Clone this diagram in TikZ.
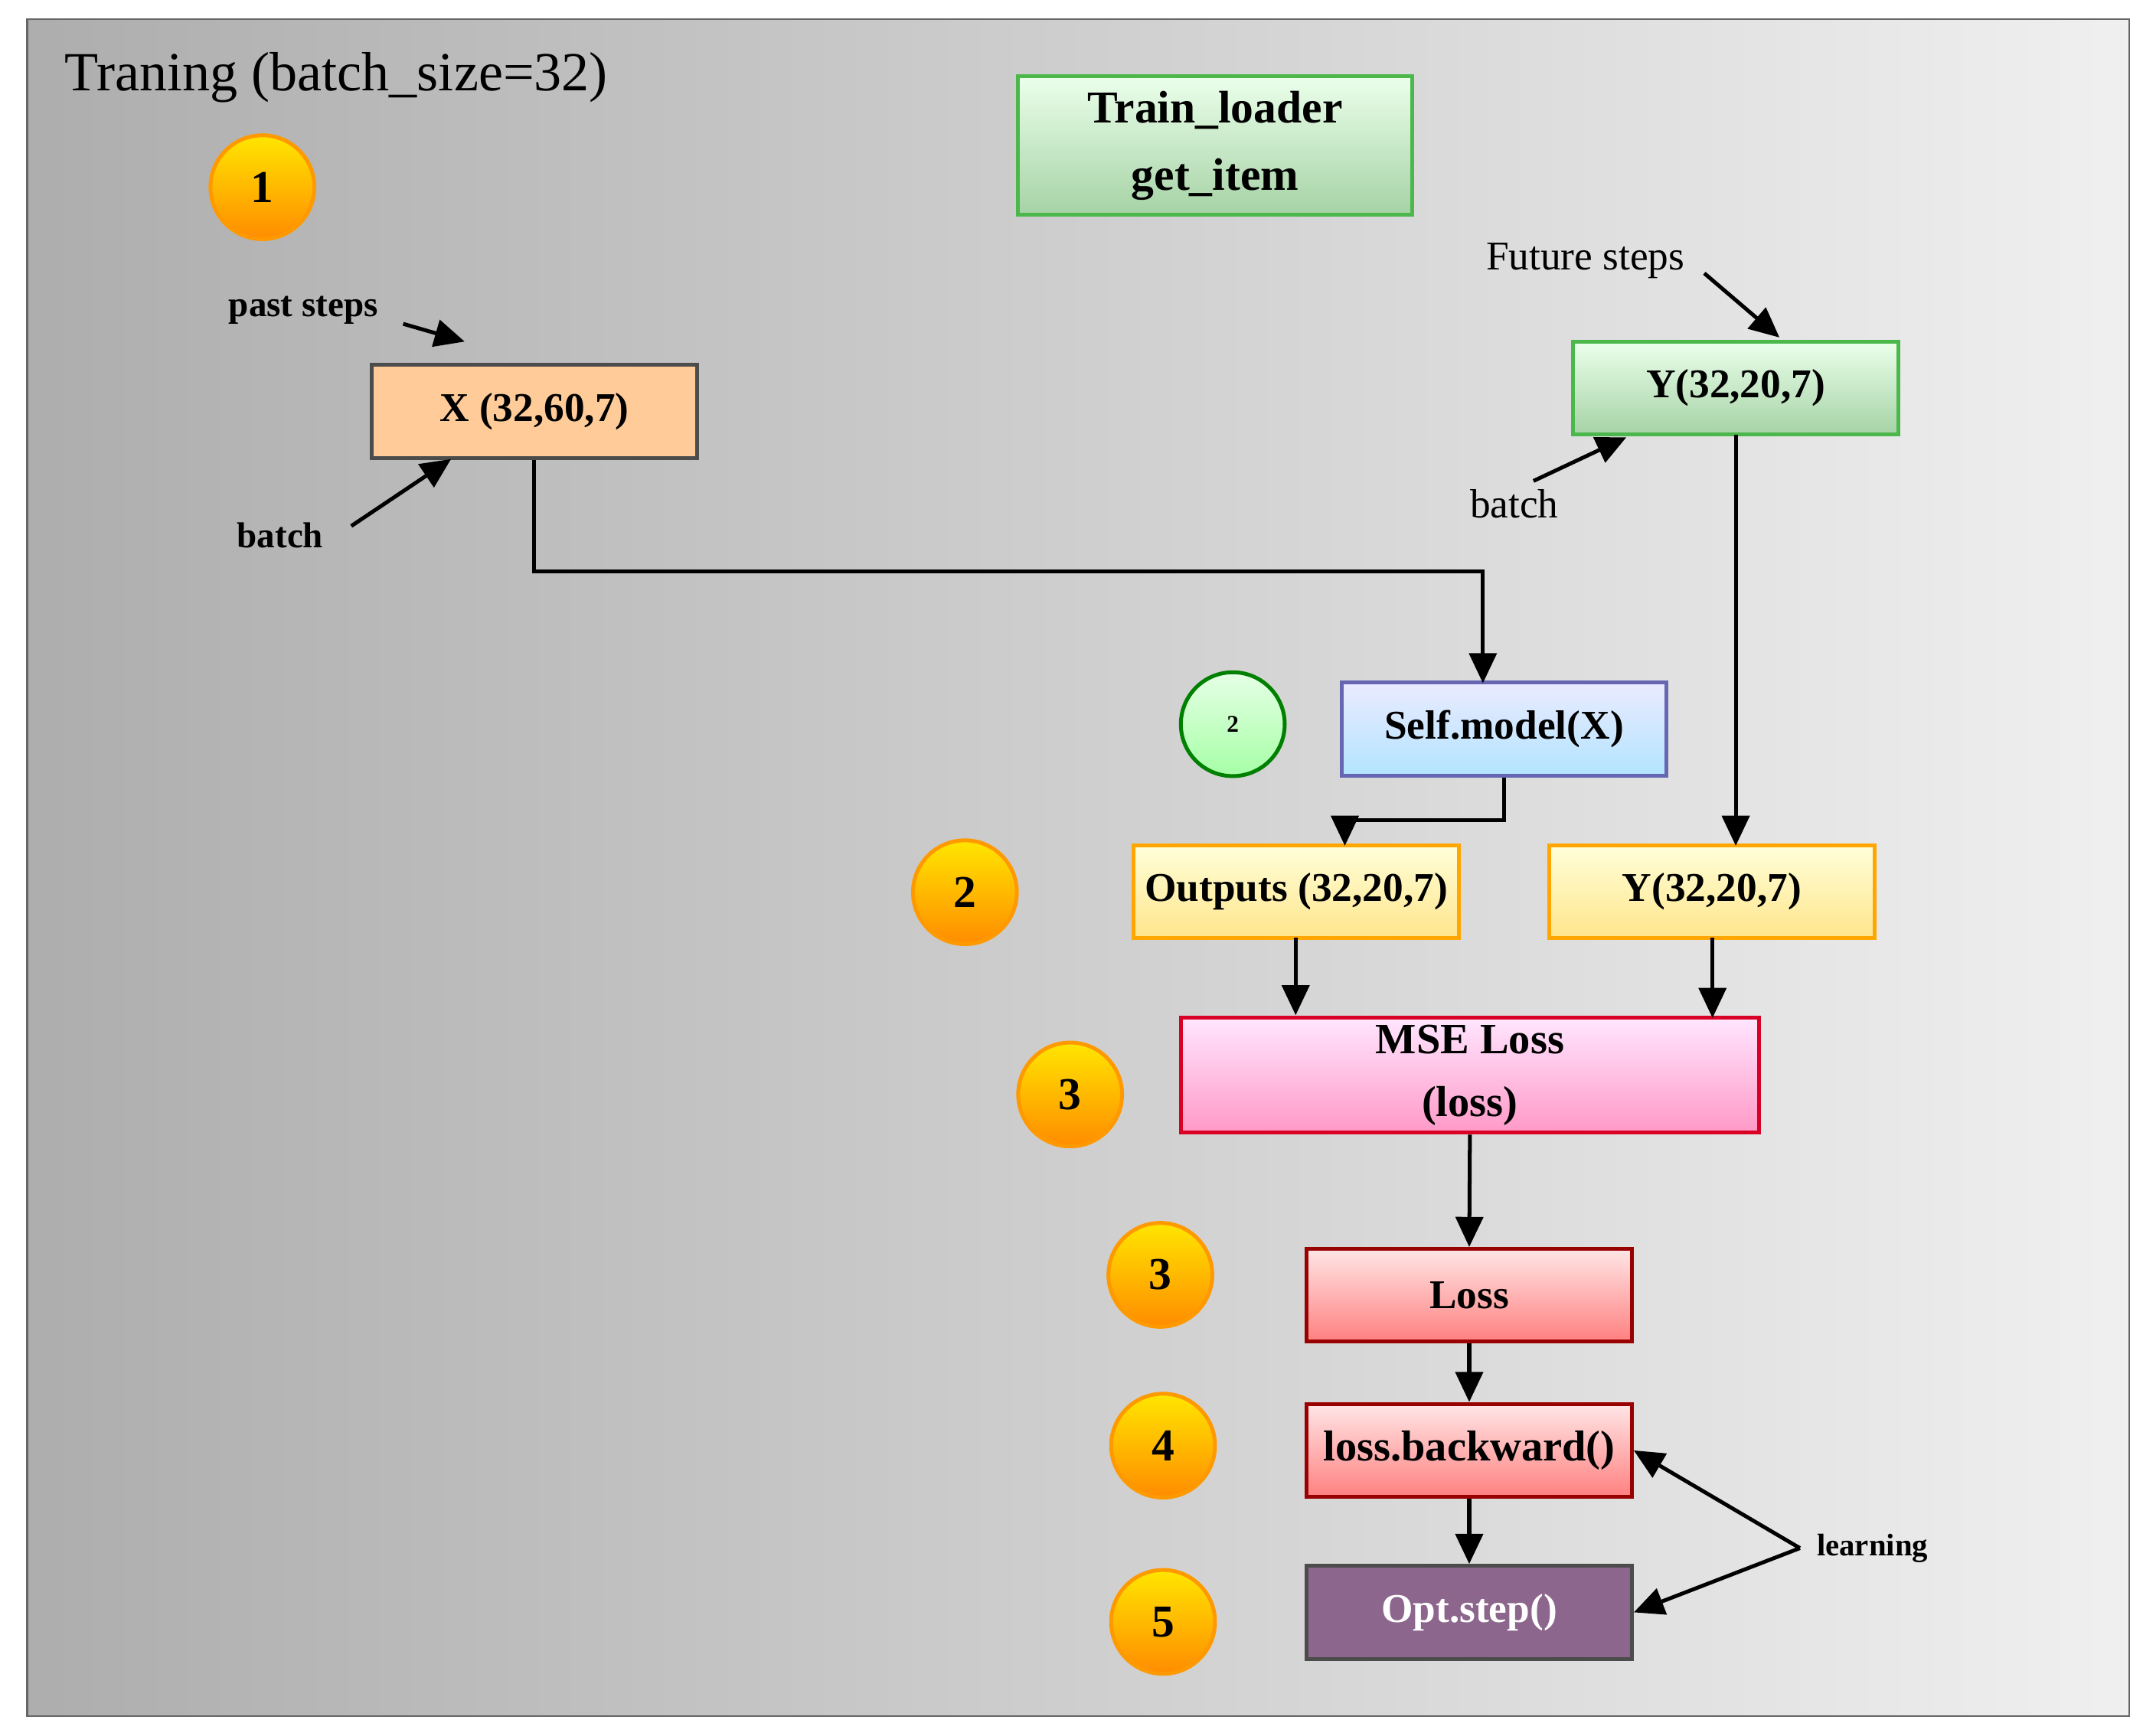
\documentclass[tikz,border=0pt]{standalone}
\usepackage{fontspec}
\setmainfont{Liberation Serif}
\usetikzlibrary{arrows.meta}
\tikzset{
  box/.style       = {shape=rectangle, draw, thick, align=center, inner sep=0pt,
                      font=\bfseries\fontsize{8.5}{11}\selectfont,
                      minimum width=2.38cm, minimum height=0.68cm},
  greenbox/.style  = {box, draw=green!60!black!70, top color=green!8!white, bottom color=green!50!black!35!white},
  yellowbox/.style = {box, draw=orange!70!yellow, top color=yellow!15, bottom color=yellow!55!orange!45},
  redbox/.style    = {box, draw=red!60!black, top color=red!10, bottom color=red!50},
  stepnum/.style   = {shape=circle, draw=orange!80!yellow, thick, minimum size=0.76cm,
                      inner sep=0pt, font=\bfseries\fontsize{9.5}{12}\selectfont,
                      top color=yellow!80!orange, bottom color=orange!90!yellow},
  lbl/.style       = {font=\bfseries\fontsize{7.5}{10}\selectfont},
  arr/.style       = {-{Triangle[length=2.2mm,width=2mm]}, thick}
}
\begin{document}
\begin{tikzpicture}
  \useasboundingbox (0,0) rectangle (15.68,-12.7);
  \shade[left color=black!32, right color=black!6, draw=black!60]
    (0.2,-0.14) rectangle (15.58,-12.56);
  \node[anchor=west, font=\fontsize{11.5}{14}\selectfont] (title) at (0.35,-0.57) {Traning (batch\_size=32)};

  % loader and inputs
  \node[greenbox, minimum width=2.88cm, minimum height=1.01cm, font=\bfseries\fontsize{9.5}{14}\selectfont]
    (loader) at (8.89,-1.065) {Train\_loader\\get\_item};
  \node[stepnum] (s1) at (1.92,-1.37) {1};
  \node[box, fill=orange!40, draw=black!70] (x) at (3.91,-3.01) {X (32,60,7)};
  \node[greenbox] (ytop) at (12.7,-2.84) {Y(32,20,7)};
  \node[lbl] (past) at (2.22,-2.27) {past steps};
  \node[lbl] (bx) at (2.05,-3.92) {batch};
  \node[font=\fontsize{8.5}{11}\selectfont] (future) at (11.6,-1.91) {Future steps};
  \node[font=\fontsize{8.5}{11}\selectfont] (by) at (11.08,-3.69) {batch};
  \coordinate (pa) at (2.95,-2.37);
  \coordinate (ba) at (2.57,-3.85);
  \coordinate (fa) at (12.47,-2.0);
  \coordinate (ya) at (11.22,-3.52);
  \draw[arr] (pa) -- (3.4,-2.5);
  \draw[arr] (ba) -- (3.3,-3.36);
  \draw[arr] (fa) -- (13.02,-2.47);
  \draw[arr] (ya) -- (11.9,-3.2);

  % model
  \node[stepnum, draw=green!50!black, top color=green!10, bottom color=green!35,
        font=\bfseries\fontsize{5}{6}\selectfont] (s2a) at (9.02,-5.3) {2};
  \node[box, draw=blue!50!black!60, top color=blue!8, bottom color=blue!35!cyan!30]
    (model) at (11.005,-5.335) {Self.model(X)};
  \node[stepnum] (s2) at (7.06,-6.53) {2};
  \node[yellowbox] (out) at (9.485,-6.525) {Outputs (32,20,7)};
  \node[yellowbox] (ybot) at (12.525,-6.525) {Y(32,20,7)};
  \draw[arr] (x.south) -- (x.south |- 0,-4.18) -| (10.85,-5.0);
  \draw[arr] (model.south) -- (model.south |- 0,-6.0) -| (9.84,-6.19);
  \draw[arr] (12.7,-3.18) -- (12.7,-6.19);

  % loss
  \node[stepnum] (s3a) at (7.83,-8.01) {3};
  \node[box, draw=red!40!purple, top color=magenta!10, bottom color=magenta!45!red!40,
        minimum width=4.23cm, minimum height=0.84cm, font=\bfseries\fontsize{9}{13}\selectfont]
    (mse) at (10.755,-7.87) {MSE Loss\\(loss)};
  \draw[arr] (9.48,-6.86) -- (9.48,-7.43);
  \draw[arr] (12.53,-6.86) -- (12.53,-7.45);
  \node[stepnum] (s3) at (8.49,-9.33) {3};
  \node[redbox] (loss) at (10.75,-9.48) {Loss};
  \node[stepnum] (s4) at (8.51,-10.58) {4};
  \node[redbox, font=\bfseries\fontsize{9}{11}\selectfont] (back) at (10.75,-10.615) {loss.backward()};
  \node[stepnum] (s5) at (8.51,-11.87) {5};
  \node[box, draw=black!70, fill=violet!50!black!60, text=white] (opt) at (10.75,-11.8) {Opt.step()};
  \draw[arr] (mse.south) -- (loss.north);
  \draw[arr] (loss.south) -- (back.north);
  \draw[arr] (back.south) -- (opt.north);
  \node[lbl, font=\bfseries\fontsize{6.5}{8}\selectfont] (learn) at (13.7,-11.33) {learning};
  \draw[arr] (learn.west) -- (back.east);
  \draw[arr] (learn.west) -- (opt.east);
\end{tikzpicture}
\end{document}
